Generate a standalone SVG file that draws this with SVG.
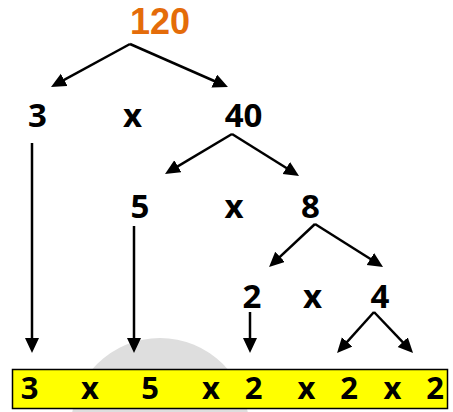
<svg xmlns="http://www.w3.org/2000/svg" width="453" height="412" viewBox="0 0 453 412">
<defs>
<style>
.t{font-family:"Open Sans","Liberation Sans",sans-serif;font-weight:700;fill:#000;text-anchor:middle}
.n{font-size:33px}
.b{font-size:31px}
.top{font-family:"Liberation Sans",Arial,sans-serif;font-size:36px;fill:#E46C0A}
.c{stroke:#000;stroke-width:2.5;fill:none;marker-end:url(#ah)}
</style>
<marker id="ah" markerUnits="userSpaceOnUse" markerWidth="16" markerHeight="15" refX="10" refY="7" orient="auto">
<path d="M0,0 L15,7 L0,14 z" fill="#000"/>
</marker>
</defs>
<rect width="453" height="412" fill="#fff"/>
<circle cx="160" cy="427" r="89" fill="#dedede"/>
<g id="connectors">
<line class="c" x1="130" y1="44" x2="55.4" y2="84.6"/>
<line class="c" x1="130" y1="44" x2="223.4" y2="85"/>
<line class="c" x1="232" y1="134" x2="169.3" y2="171.4"/>
<line class="c" x1="232" y1="134" x2="294.8" y2="173.3"/>
<line class="c" x1="32" y1="143" x2="32" y2="348"/>
<line class="c" x1="134" y1="226" x2="134" y2="348"/>
<line class="c" x1="315" y1="224" x2="272.7" y2="263.6"/>
<line class="c" x1="315" y1="224" x2="378.8" y2="264.3"/>
<line class="c" x1="250" y1="312" x2="250" y2="348"/>
<line class="c" x1="374" y1="312" x2="340.4" y2="349.3"/>
<line class="c" x1="374" y1="312" x2="409.6" y2="349.4"/>
</g>
<g id="n120"><text class="t top" x="160" y="34">120</text></g>
<g id="n3"><text class="t n" x="37.5" y="127">3</text></g>
<g id="x1"><text class="t n" x="132.5" y="127">x</text></g>
<g id="n40"><text class="t n" x="243.5" y="127">40</text></g>
<g id="n5"><text class="t n" x="140" y="218">5</text></g>
<g id="x2"><text class="t n" x="234" y="218">x</text></g>
<g id="n8"><text class="t n" x="310.5" y="218">8</text></g>
<g id="n2"><text class="t n" x="252" y="308">2</text></g>
<g id="x3"><text class="t n" x="312.5" y="308">x</text></g>
<g id="n4"><text class="t n" x="380" y="308">4</text></g>
<g id="result">
<rect x="12.5" y="369.5" width="435" height="39" fill="#ffff00" stroke="#000" stroke-width="1.5"/>
<text class="t b" x="29.5" y="399">3</text>
<text class="t b" x="90" y="399">x</text>
<text class="t b" x="150" y="399">5</text>
<text class="t b" x="211" y="399">x</text>
<text class="t b" x="253.5" y="399">2</text>
<text class="t b" x="306.5" y="399">x</text>
<text class="t b" x="349" y="399">2</text>
<text class="t b" x="392.5" y="399">x</text>
<text class="t b" x="435" y="399">2</text>
</g>
</svg>
